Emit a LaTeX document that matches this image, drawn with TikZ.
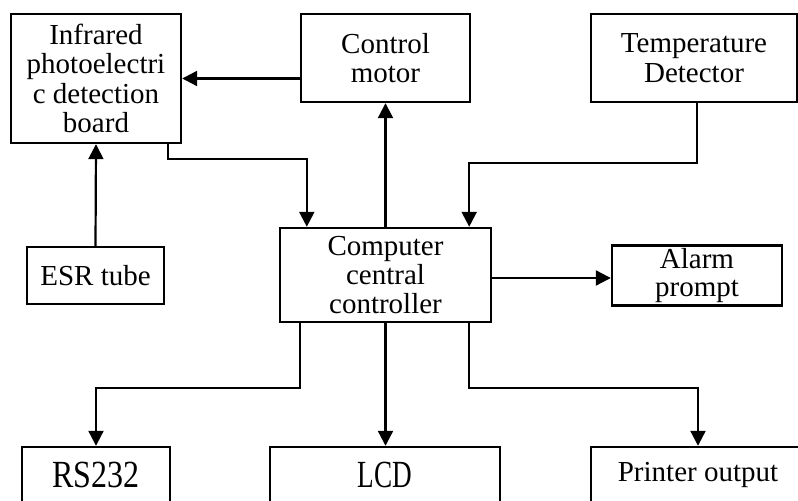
\documentclass[tikz,border=0pt]{standalone}
\usepackage{fontspec}
\setmainfont{Liberation Serif}
\usetikzlibrary{positioning, arrows.meta, calc}

\begin{document}
\begin{tikzpicture}[x=0.5pt, y=-0.5pt,
    block/.style={draw, line width=1.2pt, rectangle, inner sep=0pt, align=center,
      font=\fontsize{14.5}{14.7}\selectfont},
    bigtext/.style={font=\fontsize{16}{17}\selectfont},
    link/.style={line width=1.1pt, -{Triangle[length=7.5pt, width=7.5pt]}}]
  \useasboundingbox (0,0) rectangle (798,501);

  % Top row
  \node[block, minimum width=85pt, minimum height=64.5pt] (infra) at (96,78.5)
    {Infrared\\photoelectri\\c detection\\board};
  \node[block, minimum width=84.5pt, minimum height=44pt] (motor) at (385.5,58)
    {Control\\motor};
  \node[block, minimum width=103pt, minimum height=44pt] (temp) at (694,58)
    {Temperature\\Detector};

  % Middle row
  \node[block, minimum width=68.5pt, minimum height=28.5pt] (esr) at (95.5,275.5)
    {ESR tube};
  \node[block, minimum width=105.5pt, minimum height=47pt] (cpu) at (385.5,275)
    {Computer\\central\\controller};
  \node[block, minimum width=85pt, minimum height=30pt,
    font=\fontsize{14.5}{14}\selectfont] (alarm) at (697,275.5)
    {Alarm\\prompt};

  % Bottom row (cut by the lower edge)
  \node[block, bigtext, minimum width=74pt, minimum height=28pt] (rs) at (96,475)
    {\scalebox{1}[1.2]{RS232}};
  \node[block, bigtext, minimum width=115pt, minimum height=28pt] (lcd) at (385,475)
    {\scalebox{0.85}[1.2]{LCD}};
  \node[block, minimum width=107pt, minimum height=28pt] (prn) at (698,475)
    {Printer output};

  % Connections
  \draw[link] (infra.east -| motor.west) -- (infra.east);
  \draw[link] (esr.north) -- (infra.south);
  \draw[link] ([xshift=-7pt]infra.south east) -- ++(0,15)
    -| ([xshift=14pt]cpu.north west);
  \draw[link] (cpu.north) -- (motor.south);
  \draw[link] ([xshift=1.5pt]temp.south) -- ++(0,60)
    -| ([xshift=-11.5pt]cpu.north east);
  \draw[link] ([yshift=-1.5pt]cpu.east) -- ([yshift=-1.5pt]cpu.east -| alarm.west);
  \draw[link] ([xshift=10.5pt]cpu.south west) -- ++(0,65) -| (rs.north);
  \draw[link] (cpu.south) -- (cpu.south |- lcd.north);
  \draw[link] ([xshift=-11.5pt]cpu.south east) -- ++(0,65) -| (prn.north);
\end{tikzpicture}
\end{document}
